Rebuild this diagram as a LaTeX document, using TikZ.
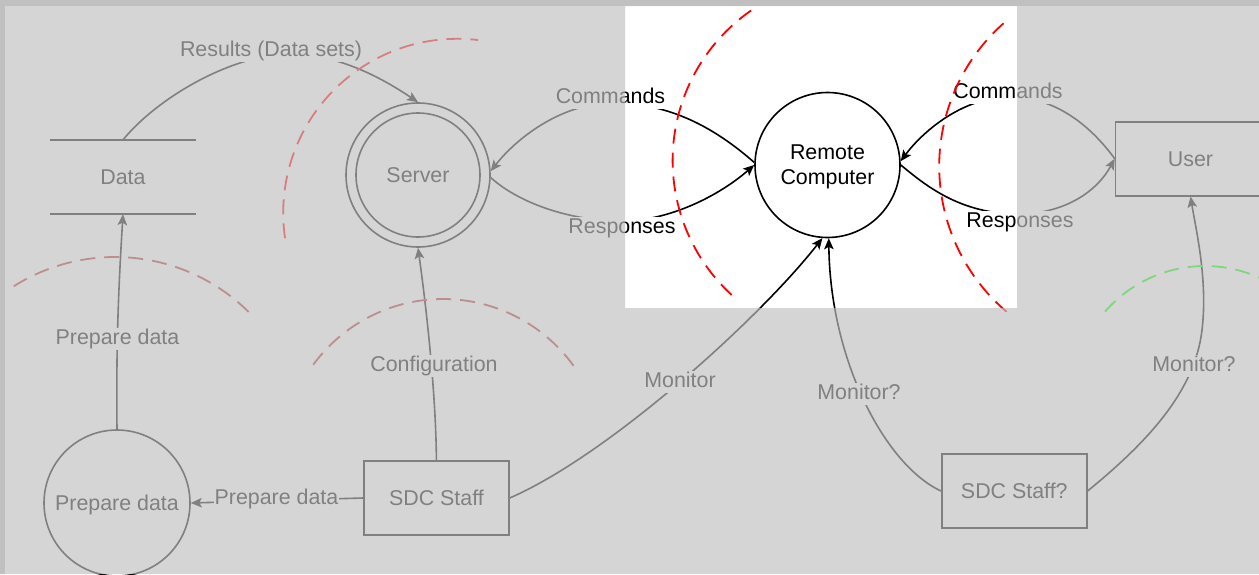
\documentclass[tikz,border=0pt]{standalone}
\usepackage{fontspec}
\setmainfont{Liberation Sans}
\usetikzlibrary{arrows.meta}
\definecolor{frame}{RGB}{192,192,192}
\definecolor{veil}{RGB}{192,192,192}
\definecolor{zonebrown}{RGB}{180,45,45}
\definecolor{zonegreen}{RGB}{0,255,0}
\begin{document}
\begin{tikzpicture}[x=1pt,y=-1pt,
  every node/.style={font=\fontsize{21.4}{25}\selectfont},
  box/.style={draw, rectangle, line width=1.6pt, minimum width=145pt, minimum height=74pt, inner sep=0pt, text depth=0pt},
  proc/.style={draw, circle, line width=1.6pt, inner sep=0pt, text depth=0pt},
  lbl/.style={anchor=base, fill=white, inner sep=1pt, text height=16pt, text depth=4.5pt},
  flow/.style={line width=1.6pt, -{Stealth[length=11pt,width=9.5pt,inset=2.5pt]}},
  link/.style={line width=1.6pt},
  zone/.style={line width=1.8pt, dash pattern=on 15pt off 9pt},
]
% canvas
\fill[frame] (0,0) rectangle (1259,574);
\fill[white] (5,6) rectangle (1259,574);
\useasboundingbox (0,0) rectangle (1259,574);

% processes, stores and actors
\node[minimum width=146pt, minimum height=74pt, inner sep=0pt, text depth=0pt] (data) at (123,177) {Data};
\draw[link] (data.north west) -- (data.north east) (data.south west) -- (data.south east);
\node[proc, minimum size=144pt] (server) at (418,175) {Server};
\draw[link] (server.center) circle[radius=62];
\node[proc, minimum size=145pt, align=center] (rc) at (827.5,165) {Remote\\Computer};
\node[box, minimum width=150pt] (user) at (1190.5,158.7) {User};
\node[proc, minimum size=146pt] (prep) at (117,503) {Prepare data};
\node[box] (sdc) at (436.4,498) {SDC Staff};
\node[box] (sdc2) at (1014.3,491) {SDC Staff?};

% flows
\draw[flow] (data.north) .. controls (160,95) and (235,54) .. (290,54) .. controls (340,54) and (385,80) .. (server.north);
\node[lbl] at (271,56.6) {Results (Data sets)};

\draw[flow] (rc.178) .. controls (715,128) and (670,103) .. (613,103) .. controls (560,103) and (515,140) .. (server.3);
\node[lbl] at (610.5,103.6) {Commands};
\draw[flow] (server.-2) .. controls (515,200) and (565,221) .. (622,221) .. controls (670,221) and (720,195) .. (rc.west);
\node[lbl] at (622,233.6) {Responses};

\draw[flow] (user.west) .. controls (1090,125) and (1055,97) .. (1010,97) .. controls (960,97) and (920,135) .. (rc.3);
\node[lbl] at (1008,98.6) {Commands};
\draw[flow] (rc.east) .. controls (925,185) and (960,214) .. (1018,214) .. controls (1060,214) and (1095,195) .. (user.west);
\node[lbl] at (1020,227.6) {Responses};

\draw[flow] (prep.north) .. controls (116,340) and (119,280) .. (data.south);
\node[lbl] at (117.5,344.6) {Prepare data};
\draw[flow] (sdc.west) -- (prep.east);
\node[lbl] at (276.5,504.6) {Prepare data};
\draw[flow] (sdc.north) .. controls (436,400) and (428,320) .. (server.south);
\node[lbl] at (434,371.6) {Configuration};

\draw[flow] (sdc.east) .. controls (609,455) and (760,318) .. (rc.-94);
\node[lbl] at (680,387.6) {Monitor};
\draw[flow] (sdc2.west) .. controls (885,465) and (830,360) .. (rc.-89);
\node[lbl] at (859,399.6) {Monitor?};
\draw[flow] (sdc2.east) .. controls (1150,440) and (1195,390) .. (1202,330) .. controls (1208,280) and (1196,230) .. (user.south);
\node[lbl] at (1194,371.6) {Monitor?};

% trust boundaries
\draw[zone, red] (457.2,212.8) ++(171.6:174) arc[start angle=171.6, end angle=276.9, radius=174];
\draw[zone, red] (855.2,160.5) ++(132.6:182.6) arc[start angle=132.6, end angle=235.5, radius=182.6];
\draw[zone, red] (1130,166.2) ++(130.3:190.8) arc[start angle=130.3, end angle=230.4, radius=190.8];
\draw[zone, zonebrown] (115,447) ++(237.8:190) arc[start angle=237.8, end angle=315.1, radius=190];
\draw[zone, zonebrown] (443,460) ++(216.3:161) arc[start angle=216.3, end angle=325.2, radius=161];
\draw[zone, zonegreen] (1205,398.3) ++(220.9:132.3) arc[start angle=220.9, end angle=330, radius=132.3];

% dimmed surroundings, focus window left clear
\fill[veil, fill opacity=0.667, even odd rule] (0,0) rectangle (1259,574) (625,6) rectangle (1017,308);
\end{tikzpicture}
\end{document}
